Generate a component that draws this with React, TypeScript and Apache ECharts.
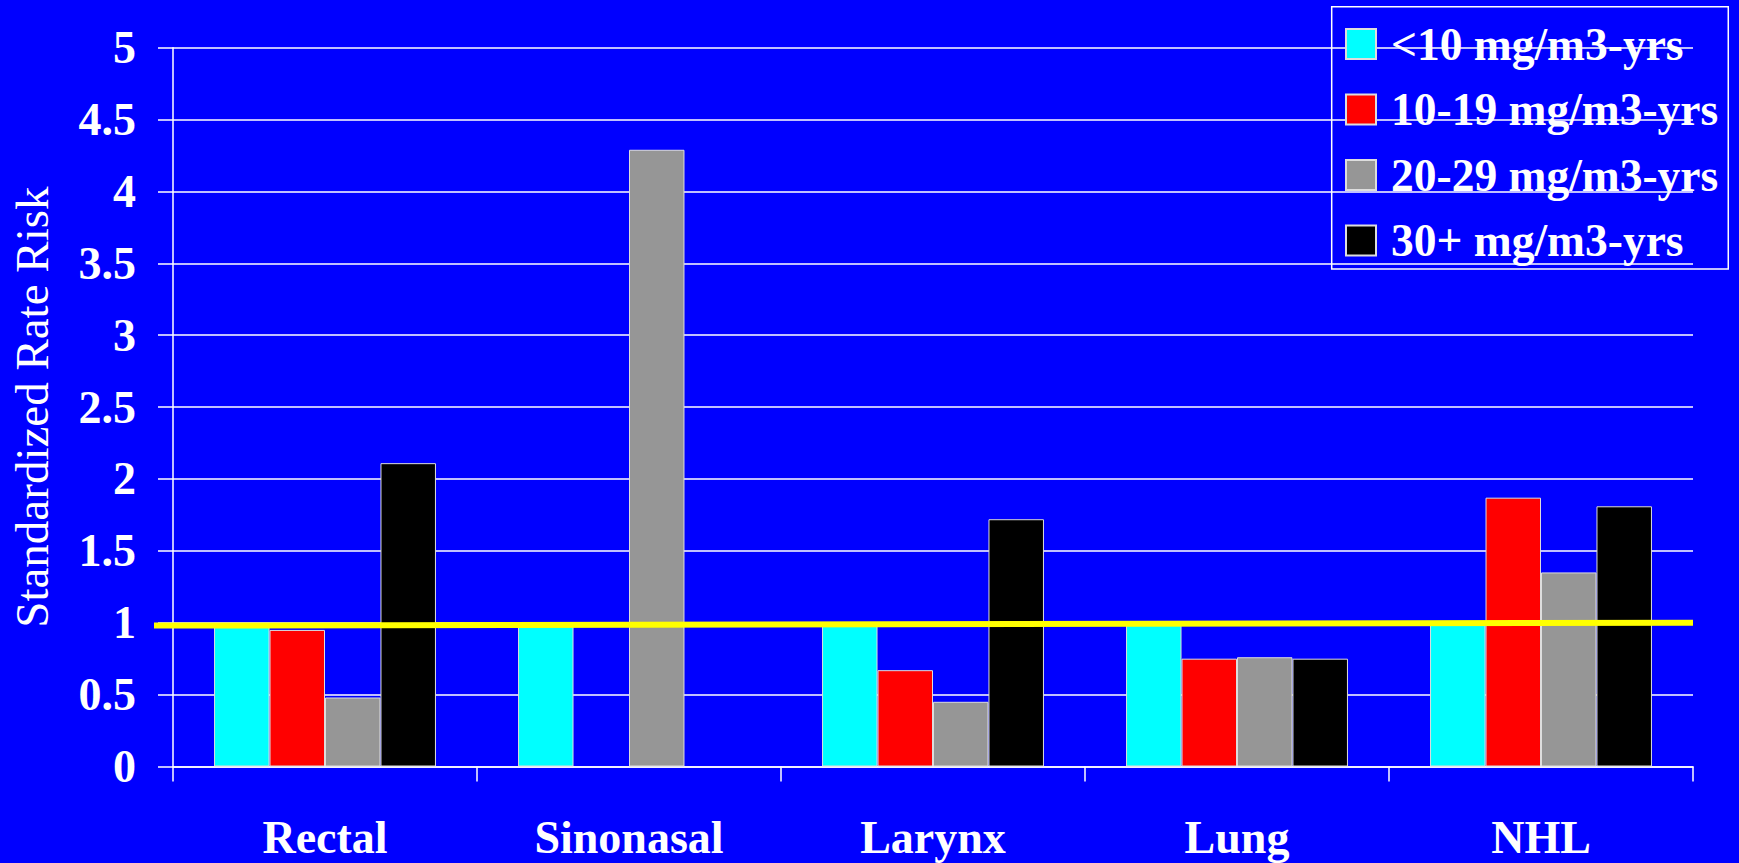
import React, { useEffect, useRef } from "react";
import * as echarts from "echarts";

const categories = ["Rectal", "Sinonasal", "Larynx", "Lung", "NHL"];
const seriesNames = ["<10 mg/m3-yrs", "10-19 mg/m3-yrs", "20-29 mg/m3-yrs", "30+ mg/m3-yrs"];
const lt10 = [1.0, 1.0, 1.0, 1.0, 1.0];
const r10to19 = [0.95, null, 0.67, 0.75, 1.87];
const r20to29 = [0.48, 4.29, 0.45, 0.76, 1.35];
const r30plus = [2.11, null, 1.72, 0.75, 1.81];
const seriesColors = ["#00FFFF", "#FF0000", "#969696", "#000000"];
const refLineX = [0, 1];
const refLineY = [0.98, 1.0];
const yTicks = { min: 0, max: 5, interval: 0.5 };

const FONT = "'Liberation Serif', 'Times New Roman', serif";

export default function App() {
  const ref = useRef<HTMLDivElement>(null);
  useEffect(() => {
    if (!ref.current) return;
    const chart = echarts.init(ref.current, null, { renderer: "svg" });
    const values = [lt10, r10to19, r20to29, r30plus];
    const bars = seriesNames.map((name, i) => ({
      name,
      type: "bar",
      xAxisIndex: 0,
      yAxisIndex: 0,
      data: values[i],
      barGap: "0%",
      barCategoryGap: "27%",
      itemStyle: { color: seriesColors[i], borderColor: "#dddddd", borderWidth: 1 },
      z: 2,
    }));
    chart.setOption({
      animation: false,
      backgroundColor: "#0000FF",
      textStyle: { fontFamily: FONT },
      grid: [
        { left: 169, right: 46, top: 47.7, bottom: 96.5, containLabel: false },
        { left: 154, right: 46, top: 47.7, bottom: 96.5, containLabel: false },
      ],
      legend: {
        data: seriesNames,
        orient: "vertical",
        left: 1331.7,
        top: 6.7,
        padding: [14.3, 10, 5.5, 13.3],
        itemWidth: 30,
        itemHeight: 30,
        itemGap: 19.5,
        borderColor: "#ffffff",
        borderWidth: 1.5,
        backgroundColor: "transparent",
        icon: "rect",
        textStyle: {
          color: "#ffffff",
          fontFamily: FONT,
          fontWeight: "bold",
          fontSize: 45.5,
          lineHeight: 46,
          padding: [0, 0, 0, 10],
        },
      },
      xAxis: [
        {
          type: "category",
          gridIndex: 0,
          data: categories,
          boundaryGap: true,
          axisLine: { show: true, lineStyle: { color: "#ffffff", width: 1.5 } },
          axisTick: { show: true, length: 15, lineStyle: { color: "#ffffff", width: 1.5 } },
          axisLabel: {
            color: "#ffffff",
            fontFamily: FONT,
            fontWeight: "bold",
            fontSize: 46,
            lineHeight: 46,
            margin: 48,
          },
          splitLine: { show: false },
        },
        {
          type: "value",
          gridIndex: 1,
          min: 0,
          max: 1,
          show: false,
        },
      ],
      yAxis: [
        {
          type: "value",
          gridIndex: 0,
          min: yTicks.min,
          max: yTicks.max,
          interval: yTicks.interval,
          name: "Standardized Rate Risk",
          nameLocation: "middle",
          nameRotate: 90,
          nameGap: 118,
          nameTextStyle: {
            color: "#ffffff",
            fontFamily: FONT,
            fontWeight: "normal",
            fontSize: 47,
          },
          axisLine: { show: true, lineStyle: { color: "#ffffff", width: 1.5 } },
          axisTick: { show: true, length: 15, lineStyle: { color: "#ffffff", width: 1.5 } },
          axisLabel: {
            color: "#ffffff",
            fontFamily: FONT,
            fontWeight: "bold",
            fontSize: 46,
            margin: 37,
          },
          splitLine: { show: true, lineStyle: { color: "#ffffff", width: 1.5 } },
        },
        {
          type: "value",
          gridIndex: 1,
          min: yTicks.min,
          max: yTicks.max,
          show: false,
        },
      ],
      series: [
        ...bars,
        {
          name: "ref",
          type: "line",
          xAxisIndex: 1,
          yAxisIndex: 1,
          data: refLineX.map((x, i) => [x, refLineY[i]]),
          symbol: "none",
          lineStyle: { color: "#FFFF00", width: 6 },
          z: 5,
          silent: true,
        },
      ],
    });
    return () => chart.dispose();
  }, []);
  return (
    <div
      ref={ref}
      style={{ position: "fixed", left: 0, top: 0, width: 1739, height: 863 }}
    />
  );
}
